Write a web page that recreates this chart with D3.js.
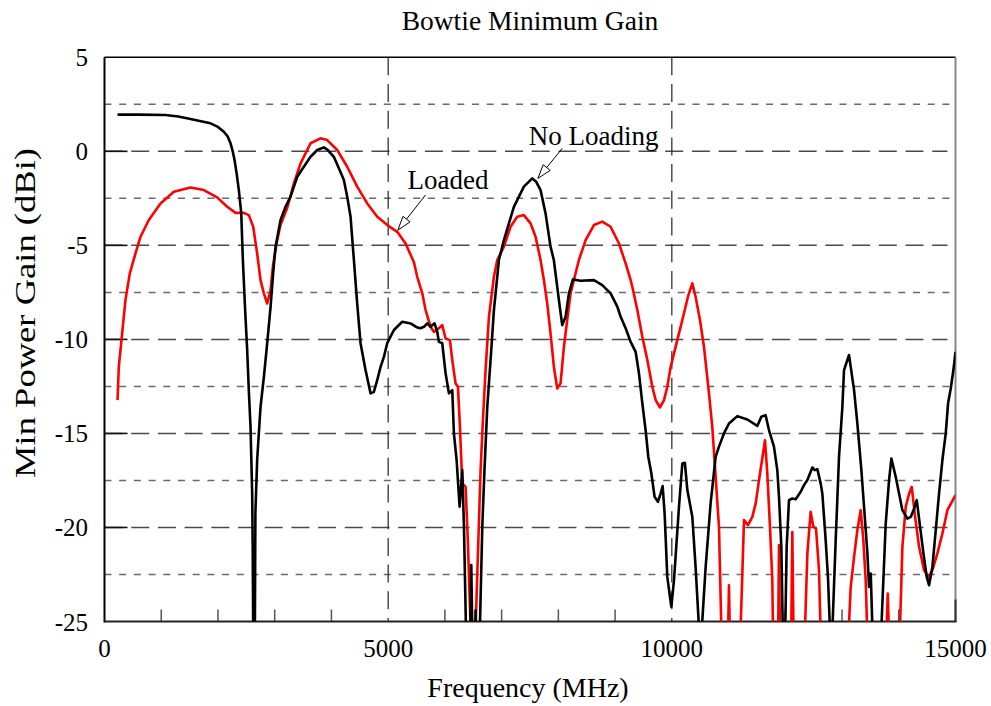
<!DOCTYPE html>
<html>
<head>
<meta charset="utf-8">
<script src="https://cdn.jsdelivr.net/npm/d3@7"></script>
<style>
  html, body { margin: 0; padding: 0; background: #fff; }
  svg { display: block; }
  text { font-family: "Liberation Serif", "Times New Roman", serif; fill: #000; }
</style>
</head>
<body>
<svg id="chart" width="991" height="706"></svg>
<script>
// ---------------- DATA ----------------
const chartTitle = "Bowtie Minimum Gain";
const xAxisLabel = "Frequency (MHz)";
const yAxisLabel = "Min Power Gain (dBi)";
const xTickValues = [0, 5000, 10000, 15000];
const yTickValues = [5, 0, -5, -10, -15, -20, -25];

// "No Loading" (black) series
const freqNoLoad = [230,600,1075,1300,1516,1700,1869,2000,2103,2170,2221,2260,2292,2330,2368,2410,2439,2480,2515,2545,2574,2603,2612,2625,2648,2660,2691,2750,2809,2868,2927,2973,3015,3103,3191,3279,3397,3514,3632,3750,3866,3937,4042,4131,4219,4278,4337,4396,4454,4513,4601,4690,4748,4807,4866,4925,4984,5101,5248,5395,5500,5571,5630,5689,5748,5777,5818,5865,5894,5953,6012,6071,6130,6159,6206,6259,6306,6336,6382,6440,6465,6490,6530,6541,6560,6600,6617,6659,6700,6747,6805,6864,6952,7040,7216,7392,7539,7610,7686,7774,7862,7920,8009,8068,8127,8186,8257,8392,8627,8774,8921,9039,9098,9186,9274,9362,9421,9480,9538,9585,9638,9696,9755,9802,9838,9873,9920,9991,10038,10126,10185,10230,10273,10361,10419,10478,10505,10530,10596,10684,10772,10831,10919,11007,11154,11330,11507,11577,11653,11712,11800,11859,11889,11930,11965,11990,12024,12065,12124,12183,12271,12330,12389,12477,12518,12565,12624,12653,12712,12753,12788,12810,12829,12888,12947,13006,13035,13123,13212,13270,13341,13388,13447,13476,13506,13535,13600,13694,13770,13829,13870,13946,14005,14064,14152,14211,14270,14317,14376,14435,14493,14534,14593,14652,14710,14769,14828,14869,14916,14963,15000];
const gainNoLoad = [1.95,1.95,1.93,1.85,1.72,1.6,1.49,1.3,1.04,0.8,0.43,0.0,-0.46,-1.2,-2.06,-3.28,-5.78,-8.5,-10.57,-12.8,-14.65,-18.2,-21,-27,-27,-19.2,-16.4,-13.6,-12.0,-10.2,-8.27,-6.47,-5.07,-3.65,-2.95,-2.41,-1.35,-0.82,-0.29,0.07,0.21,0.07,-0.29,-0.9,-1.53,-2.41,-3.48,-5.78,-8.09,-10.2,-11.63,-12.87,-12.79,-12.17,-11.46,-10.93,-10.2,-9.5,-9.06,-9.15,-9.35,-9.41,-9.33,-9.15,-9.33,-9.24,-9.15,-9.6,-10.13,-10.2,-11.8,-12.87,-12.7,-15.0,-16.4,-18.9,-16.95,-19.97,-27,-27,-22.0,-27,-27,-24.4,-27,-27,-25.3,-19.97,-16.75,-13.59,-11.1,-8.44,-5.78,-4.72,-2.95,-1.88,-1.44,-1.62,-2.06,-3.3,-5.07,-5.78,-7.9,-9.24,-8.8,-7.55,-6.81,-6.88,-6.85,-7.11,-7.55,-8.26,-8.8,-9.41,-10.13,-10.66,-11.81,-13.4,-14.83,-16.24,-17.1,-18.37,-18.64,-18.2,-17.8,-19.26,-22.63,-24.22,-22.8,-18.9,-16.6,-16.56,-18.0,-19.43,-22.1,-25.3,-27,-25.3,-22.1,-18.7,-16.25,-15.7,-15.0,-14.47,-14.08,-14.26,-14.6,-14.11,-14.03,-14.82,-15.7,-16.95,-18.37,-21.03,-27,-27,-21.03,-18.55,-18.46,-18.5,-18.1,-17.75,-17.48,-16.81,-16.95,-16.9,-17.67,-18.2,-20.69,-22.7,-25.5,-27,-25.5,-20.7,-16.24,-13.59,-11.63,-10.83,-12.7,-14.47,-16.95,-18.9,-21.38,-23.16,-22.45,-25.3,-27,-25.3,-19.8,-17.48,-16.33,-17.3,-18.2,-19.08,-19.53,-19.44,-19.0,-18.55,-19.97,-21.38,-22.63,-23.07,-22.1,-20.14,-18.2,-16.42,-15.0,-13.4,-12.61,-11.63,-10.66];

// "Loaded" (red) series
const freqLoaded = [230,252,311,370,446,546,635,781,987,1222,1516,1751,1986,2163,2310,2456,2544,2621,2691,2750,2809,2868,2927,2973,3040,3103,3221,3338,3456,3632,3808,3925,4102,4278,4454,4631,4808,4984,5160,5307,5395,5454,5512,5601,5660,5748,5806,5894,5953,6012,6089,6130,6188,6230,6265,6306,6365,6406,6453,6480,6520,6541,6588,6629,6670,6717,6776,6864,6923,7040,7157,7275,7392,7510,7598,7686,7745,7804,7862,7921,7980,8039,8098,8156,8215,8303,8362,8480,8627,8774,8921,9068,9186,9274,9303,9392,9480,9568,9656,9715,9791,9862,9920,9979,10038,10126,10214,10284,10361,10419,10496,10566,10655,10713,10772,10831,10872,10900,10985,11007,11030,11190,11213,11272,11342,11419,11478,11554,11642,11683,11730,11771,11790,11870,11889,11910,12100,12124,12150,12330,12389,12447,12494,12541,12594,12635,13094,13153,13212,13270,13329,13376,13417,13458,13770,13806,13840,14005,14064,14123,14182,14229,14288,14358,14446,14523,14593,14681,14769,14857,15000];
const gainLoaded = [-13.23,-11.46,-9.68,-7.9,-6.49,-5.43,-4.54,-3.65,-2.77,-2.15,-1.92,-2.06,-2.45,-2.95,-3.27,-3.27,-3.39,-4.01,-5.43,-6.85,-7.55,-8.09,-7.38,-6.0,-4.8,-3.9,-3.0,-1.7,-0.64,0.43,0.69,0.6,0.07,-0.82,-1.88,-2.77,-3.48,-3.92,-4.28,-4.9,-5.5,-5.9,-6.67,-7.55,-8.44,-9.33,-9.6,-9.41,-9.24,-9.95,-10.04,-11.1,-12.34,-12.52,-14.65,-17.66,-17.84,-20.85,-25.3,-27,-27,-25.3,-20.85,-16.95,-14.29,-11.63,-8.8,-6.67,-5.78,-5.07,-4.01,-3.48,-3.39,-3.83,-4.54,-5.78,-6.85,-8.09,-9.68,-11.46,-12.61,-12.34,-10.39,-8.97,-7.55,-6.49,-5.78,-4.72,-3.92,-3.74,-4.01,-4.9,-5.96,-6.85,-7.2,-8.44,-9.86,-11.1,-12.52,-13.23,-13.62,-13.23,-12.52,-11.46,-10.74,-9.68,-8.61,-7.73,-7.02,-7.73,-8.97,-10.39,-12.87,-14.65,-17.31,-19.97,-25.3,-27,-27,-23.07,-27,-27,-25.3,-19.6,-19.87,-19.44,-18.72,-17.13,-15.36,-17.13,-19.97,-22.8,-27,-27,-20.94,-27,-27,-20.24,-27,-27,-21.38,-19.17,-19.97,-20.05,-22.27,-27,-27,-23.16,-21.56,-20.14,-19.08,-20.69,-22.8,-27,-27,-23.51,-27,-27,-21.03,-18.9,-18.2,-17.84,-19.44,-21.03,-22.27,-22.66,-22.27,-21.38,-20.32,-19.08,-18.28];

// Annotations: label, text anchor point, arrow tail, arrow tip (data units)
const annoLabels = ["Loaded", "No Loading"];
const annoTextPos = [[5342, -2.0], [7480, 0.34]];
const annoTail = [[5659, -2.32], [8069, 0.16]];
const annoTip = [[5171, -4.19], [7639, -1.44]];

// ---------------- CHART ----------------
const svg = d3.select("#chart");
const L = 104.5, R = 955.5, T = 57.3, B = 621.5;
const x = d3.scaleLinear().domain([0, 15000]).range([L, R]);
const y = d3.scaleLinear().domain([-25, 5]).range([B, T]);

svg.append("defs").append("clipPath").attr("id", "clip")
  .append("rect").attr("x", L).attr("y", T).attr("width", R - L).attr("height", B - T);

// horizontal grid: long dashes at multiples of 5, short dashes at the halves
const majorGrid = [0, -5, -10, -15, -20];
const minorGrid = [2.5, -2.5, -7.5, -12.5, -17.5, -22.5];
svg.append("g").selectAll("line").data(minorGrid).join("line")
  .attr("x1", L).attr("x2", R - 2).attr("y1", d => y(d)).attr("y2", d => y(d))
  .attr("stroke", "#6a6a6a").attr("stroke-width", 1.5).attr("stroke-dasharray", "7,7.7");
svg.append("g").selectAll("line").data(majorGrid).join("line")
  .attr("x1", L).attr("x2", R - 8).attr("y1", d => y(d)).attr("y2", d => y(d))
  .attr("stroke", "#4a4a4a").attr("stroke-width", 1.5).attr("stroke-dasharray", "18,8.7");
// y major ticks (solid, inward)
svg.append("g").selectAll("line").data(majorGrid).join("line")
  .attr("x1", L).attr("x2", L + 23).attr("y1", d => y(d)).attr("y2", d => y(d))
  .attr("stroke", "#111").attr("stroke-width", 1.6);

// vertical grid
svg.append("g").selectAll("line").data([5000, 10000]).join("line")
  .attr("x1", d => x(d)).attr("x2", d => x(d)).attr("y1", T).attr("y2", B)
  .attr("stroke", "#222").attr("stroke-width", 1.2).attr("stroke-dasharray", "18,8.7");

// x minor ticks
svg.append("g").selectAll("line").data(d3.range(1000, 15000, 1000).filter(v => v % 5000 !== 0)).join("line")
  .attr("x1", d => x(d)).attr("x2", d => x(d)).attr("y1", B).attr("y2", B - 12)
  .attr("stroke", "#555").attr("stroke-width", 1.5);

// frame
svg.append("line").attr("x1", L).attr("x2", R).attr("y1", T).attr("y2", T).attr("stroke", "#000").attr("stroke-width", 1.5);
svg.append("line").attr("x1", R).attr("x2", R).attr("y1", T).attr("y2", B).attr("stroke", "#888").attr("stroke-width", 2);
svg.append("line").attr("x1", R).attr("x2", R).attr("y1", B - 22).attr("y2", B).attr("stroke", "#333").attr("stroke-width", 2);
svg.append("line").attr("x1", L).attr("x2", L).attr("y1", T).attr("y2", B + 1).attr("stroke", "#000").attr("stroke-width", 2);
svg.append("line").attr("x1", L).attr("x2", R + 1).attr("y1", B).attr("y2", B).attr("stroke", "#222").attr("stroke-width", 2);

// series
const line = d3.line().x(d => x(d[0])).y(d => y(d[1]));
const black = freqNoLoad.map((f, i) => [f, gainNoLoad[i]]);
const red = freqLoaded.map((f, i) => [f, gainLoaded[i]]);
const g = svg.append("g").attr("clip-path", "url(#clip)");
g.append("path").datum(red).attr("d", line).attr("fill", "none")
  .attr("stroke", "#ff0000").attr("stroke-width", 2.6).attr("stroke-linejoin", "round");
g.append("path").datum(black).attr("d", line).attr("fill", "none")
  .attr("stroke", "#000").attr("stroke-width", 2.6).attr("stroke-linejoin", "round");

// tick labels
svg.append("g").selectAll("text").data(yTickValues).join("text")
  .attr("x", 88).attr("y", d => y(d)).attr("dy", "0.36em")
  .attr("text-anchor", "end").attr("font-size", 25).text(d => d);
svg.append("g").selectAll("text").data(xTickValues).join("text")
  .attr("x", d => x(d)).attr("y", 657)
  .attr("text-anchor", "middle").attr("font-size", 25).text(d => d);

// titles
svg.append("text").attr("x", 530).attr("y", 30).attr("text-anchor", "middle")
  .attr("font-size", 27.5).text(chartTitle);
svg.append("text").attr("x", 528).attr("y", 697).attr("text-anchor", "middle")
  .attr("font-size", 28).text(xAxisLabel);
svg.append("text").attr("transform", "translate(35,313) rotate(-90)")
  .attr("text-anchor", "middle").attr("font-size", 30)
  .attr("textLength", 330).attr("lengthAdjust", "spacingAndGlyphs").text(yAxisLabel);

// annotations
annoLabels.forEach((lab, i) => {
  svg.append("text").attr("x", x(annoTextPos[i][0])).attr("y", y(annoTextPos[i][1]))
    .attr("font-size", 27).text(lab);
  const x1 = x(annoTail[i][0]), y1 = y(annoTail[i][1]);
  const x2 = x(annoTip[i][0]), y2 = y(annoTip[i][1]);
  const ang = Math.atan2(y2 - y1, x2 - x1);
  const hl = 14, hw = 4.5;
  const bx = x2 - hl * Math.cos(ang), by = y2 - hl * Math.sin(ang);
  svg.append("line").attr("x1", x1).attr("y1", y1).attr("x2", bx).attr("y2", by)
    .attr("stroke", "#000").attr("stroke-width", 1);
  const px = -Math.sin(ang) * hw, py = Math.cos(ang) * hw;
  svg.append("path")
    .attr("d", `M${x2},${y2}L${bx + px},${by + py}L${bx - px},${by - py}Z`)
    .attr("fill", "#fff").attr("stroke", "#000").attr("stroke-width", 1);
});
</script>
</body>
</html>
